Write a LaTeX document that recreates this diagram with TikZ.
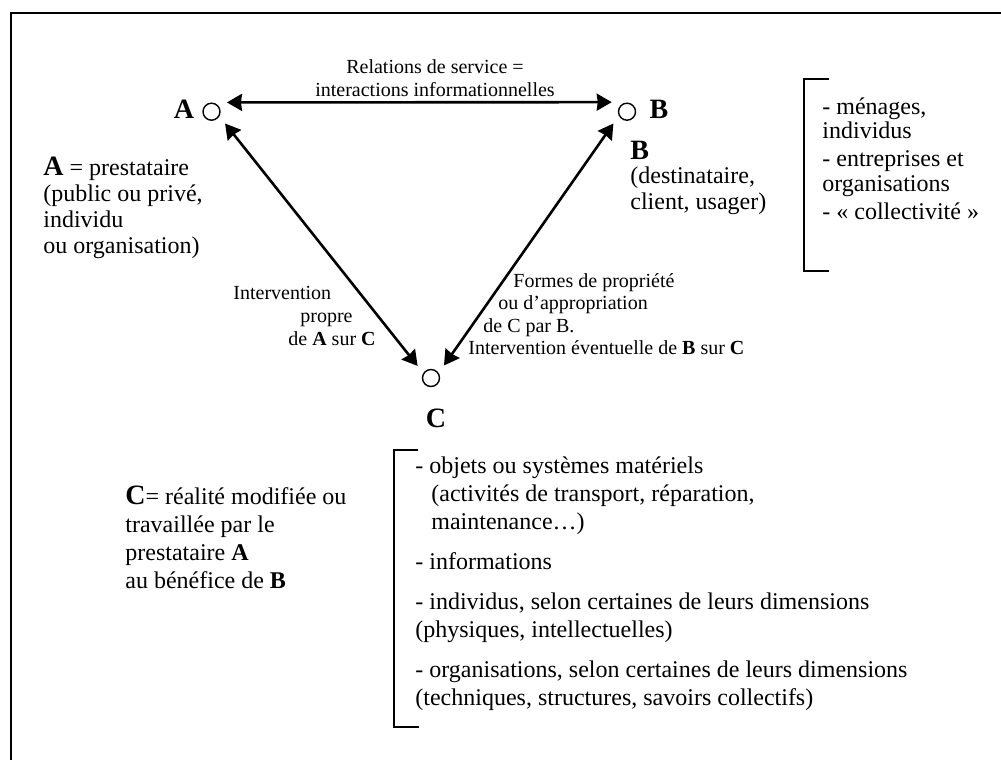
\documentclass[tikz,border=0pt]{standalone}
\usepackage{fontspec}
\setmainfont{Liberation Serif}
\usepackage{tikz}
\usetikzlibrary{arrows.meta}

\newcommand{\grand}[1]{{\fontsize{14}{16}\selectfont\bfseries #1}}

\begin{document}
\begin{tikzpicture}[x=0.5pt, y=-0.5pt,
		pole/.style={circle, draw, line width=0.7pt, minimum size=8.5pt, inner sep=0pt, outer sep=4.75pt},
		link/.style={line width=1.3pt, {Stealth[length=7.5pt,width=8.5pt,inset=0.5pt]}-{Stealth[length=7.5pt,width=8.5pt,inset=0.5pt]}},
		letter/.style={font=\fontsize{14}{16}\selectfont\bfseries, inner sep=0pt, anchor=base},
		txt/.style={font=\fontsize{12}{13}\selectfont, inner sep=0pt, align=left, anchor=base west},
		note/.style={font=\fontsize{10}{11.5}\selectfont, inner sep=0pt, align=left, anchor=base west},
		brk/.style={line width=1pt}]
				\useasboundingbox (0,0) rectangle (1001,760);
				\draw [line width=1pt] (11,775) -- (11,13) -- (1015,13);
				
				\node [letter] (labA) at (184,118) {A};
				\node [pole] (ptA) at (211.5,111.7) {};
				\node [pole] (ptB) at (627,111.7) {};
				\node [letter] (labB) at (659,118) {B};
				\node [pole] (ptC) at (431,378) {};
				\node [letter] (labC) at (436,427) {C};
				
				\draw [link] (ptA.31.7) -- (ptB.148.4);
				\draw [link] (ptA.-41.2) -- (ptC.138.3);
				\draw [link] (ptB.-139) -- (ptC.44.3);
				
				\node [note, align=center, anchor=base] (rel) at (435,96) {Relations de service =\\interactions informationnelles};
				\node [note] (actA) at (233,345) {Intervention\\\hspace*{33.5pt}propre\\\hspace*{27.5pt}de \textbf{A} sur \textbf{C}};
				\node [note, font=\fontsize{10}{11.25}\selectfont] (actB) at (468,354.5) {\hspace*{22.5pt}Formes de propriété\\\hspace*{15pt}ou d’appropriation\\\hspace*{7.5pt}de C par B.\\Intervention éventuelle de \textbf{B} sur \textbf{C}};
				
				\node [txt] (descA) at (43,253) {\grand{A} = prestataire\\(public ou privé,\\individu\\ou organisation)};
				\node [txt] (descB) at (630,209.5) {\grand{B}\\[-1pt](destinataire,\\client, usager)};
				\node [txt, font=\fontsize{12}{14}\selectfont] (descC) at (125,588) {\grand{C}= réalité modifiée ou\\travaillée par le\\prestataire \textbf{A}\\au bénéfice de \textbf{B}};
				
				\draw [brk] (829,79) -- (804,79) -- (804,271) -- (829,271);
				\node [txt, font=\fontsize{12}{12.25}\selectfont] (kindsB) at (822,219) {- ménages,\\individus\\[1.75pt]- entreprises et\\organisations\\[1.75pt]- « collectivité »};
				
				\draw [brk] (418,450) -- (394,450) -- (394,727) -- (419,727);
				\node [txt, font=\fontsize{12}{14}\selectfont] (kindsC) at (415,705) {- objets ou systèmes matériels\\\hspace*{8pt}(activités de transport, réparation,\\\hspace*{8pt}maintenance…)\\[6pt]- informations\\[6pt]- individus, selon certaines de leurs dimensions\\(physiques, intellectuelles)\\[6pt]- organisations, selon certaines de leurs dimensions\\(techniques, structures, savoirs collectifs)};
\end{tikzpicture}
\end{document}
